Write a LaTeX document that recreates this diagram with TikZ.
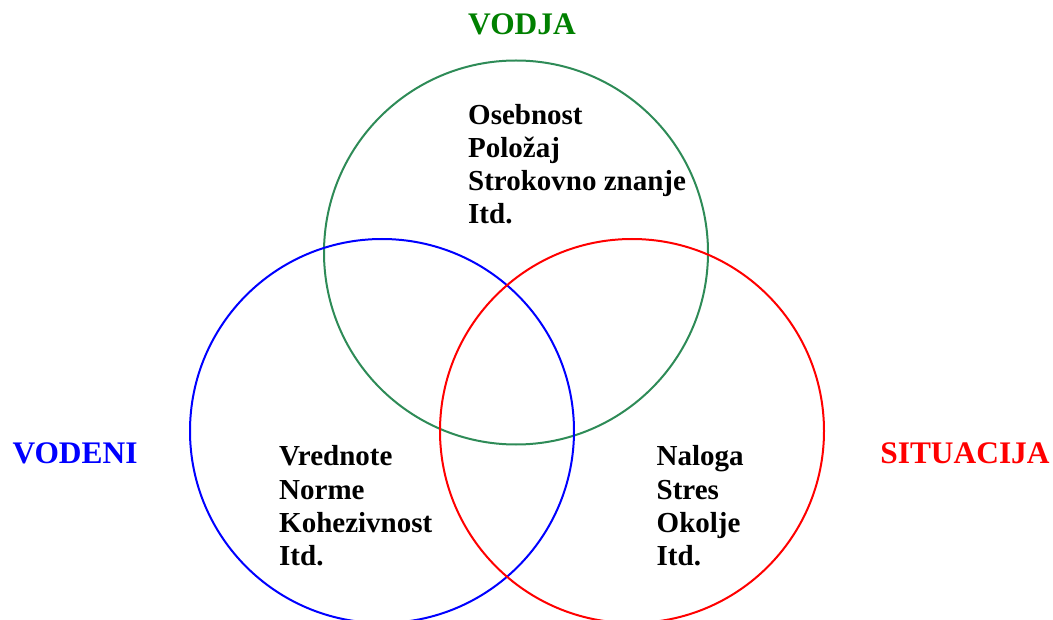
\documentclass[tikz,border=0pt]{standalone}
\usepackage{fontspec}
\setmainfont{Liberation Serif}
\definecolor{ringgreen}{RGB}{46,139,87}
\definecolor{titlegreen}{RGB}{0,128,0}
\begin{document}
\begin{tikzpicture}[x=1pt,y=-1pt,
  ring/.style={line width=2pt},
  item/.style={font=\fontsize{29}{33.3}\selectfont\bfseries, align=left,
    anchor=base west, inner sep=0pt},
  head/.style={font=\fontsize{31.4}{36}\selectfont\bfseries, anchor=base,
    inner sep=0pt}]
\useasboundingbox (0,0) rectangle (1053,620);
% the three overlapping sets
\draw[ring, ringgreen] (516,252.5) circle[radius=192];
\draw[ring, blue] (382,431) circle[radius=192];
\draw[ring, red] (632,431) circle[radius=192];
% set titles
\node[head, titlegreen] (vodja) at (522,35) {VODJA};
\node[head, blue] (vodeni) at (75,464) {VODENI};
\node[head, red] (situacija) at (965,464) {SITUACIJA};
% contents of each set (anchored at the baseline of the last line)
\node[item] (vodjaitems) at (468,224) {Osebnost\\Položaj\\Strokovno znanje\\Itd.};
\node[item] (vodeniitems) at (279,565.7) {Vrednote\\Norme\\Kohezivnost\\Itd.};
\node[item] (situacijaitems) at (656.5,565.7) {Naloga\\Stres\\Okolje\\Itd.};
\end{tikzpicture}
\end{document}
